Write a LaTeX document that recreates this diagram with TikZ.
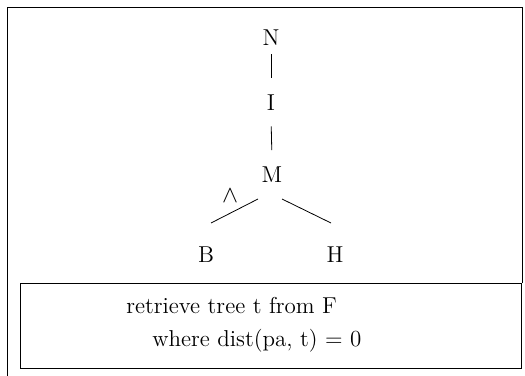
\documentclass[tikz,border=0pt]{standalone}
\usepackage{tikz}
\usetikzlibrary{calc}

\begin{document}
\begin{tikzpicture}[x=0.5pt, y=-0.5pt,
    every node/.style={font=\fontsize{11.5}{13.5}\selectfont},
    tnode/.style={anchor=base},
    branch/.style={thin, shorten <=4.7pt, shorten >=4.5pt},
    querybox/.style={rectangle, draw, thin, minimum width=250.5pt, minimum height=42.5pt}
]
    \useasboundingbox (0,0) rectangle (525,375);
    % frame, open at the bottom
    \draw[thin] (7,380) -- (7,7) -- (522,7) -- (522,283);

    \node[tnode] (N) at (271,45) {N};
    \node[tnode] (I) at (271,110) {I};
    \node[tnode] (M) at (272,182) {M};
    \node[tnode] (B) at (206,262) {B};
    \node[tnode] (H) at (335,262) {H};
    \node (andmark) at (230,196) {$\wedge$};

    \draw[branch, shorten <=1.2pt] (N.south) -- (I.north);
    \draw[branch] (I.south) -- (M.north);
    \draw[thin] ([shift={(-14,17)}]M.base) -- ([shift={(5,-39)}]B.base);
    \draw[thin] ([shift={(10,17)}]M.base) -- ([shift={(-4,-39)}]H.base);

    \node[querybox] (q) at (270.5,325.5) {};
    \node[anchor=base west, inner sep=0pt] (q1) at (126,313) {retrieve tree t from F};
    \node[anchor=base west, inner sep=0pt] (q2) at (152,346) {where dist(pa, t) = 0};
\end{tikzpicture}
\end{document}
